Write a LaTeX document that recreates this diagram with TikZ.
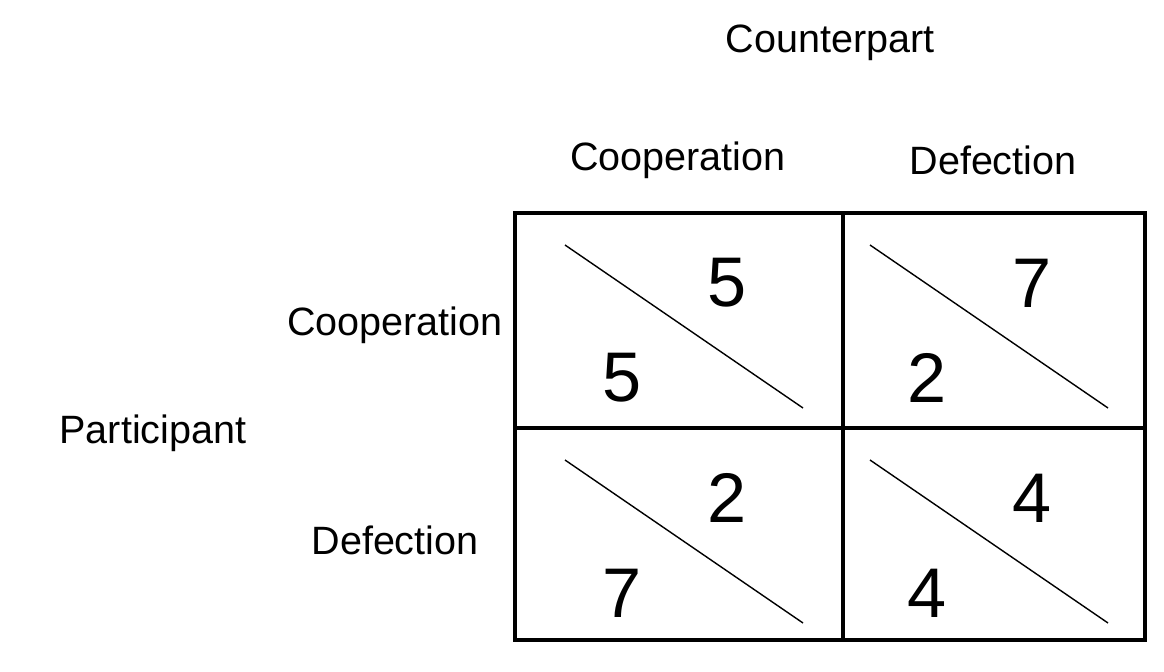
\documentclass[tikz,border=0pt]{standalone}
\usepackage{fontspec}
\setmainfont{Liberation Sans}
\begin{document}
\begin{tikzpicture}[x=0.02cm,y=-0.02cm,
  label/.style={font=\fontsize{22.5}{26}\selectfont},
  payoff/.style={font=\fontsize{40}{46}\selectfont}]
        \useasboundingbox (0,0) rectangle (1164,672);
        \coordinate (tl) at (515,213);
        \coordinate (br) at (1145,640);

        \draw[line width=1.8pt] (tl) rectangle (br);
        \draw[line width=1.8pt] (843,213) -- (843,640);
        \draw[line width=1.8pt] (515,428) -- (1145,428);

        \node[label] (counterpart) at (830,43) {Counterpart};
        \node[label] (participant) at (153,433) {Participant};
        \node[label] (colcoop) at (678,160) {Cooperation};
        \node[label] (coldef) at (993,160) {Defection};
        \node[label] (rowcoop) at (395,325) {Cooperation};
        \node[label] (rowdef) at (395,540) {Defection};

        % cells: column x, row y, participant, counterpart
        \foreach \x/\y/\p/\c in {0/0/5/5, 305/0/2/7, 0/215/7/2, 305/215/4/4}{
          \draw[line width=0.8pt] (565+\x,245+\y) -- (803+\x,408+\y);
          \node[payoff] at (727+\x,283+\y) {\c};
          \node[payoff] at (622+\x,378+\y) {\p};
        }
\end{tikzpicture}
\end{document}
